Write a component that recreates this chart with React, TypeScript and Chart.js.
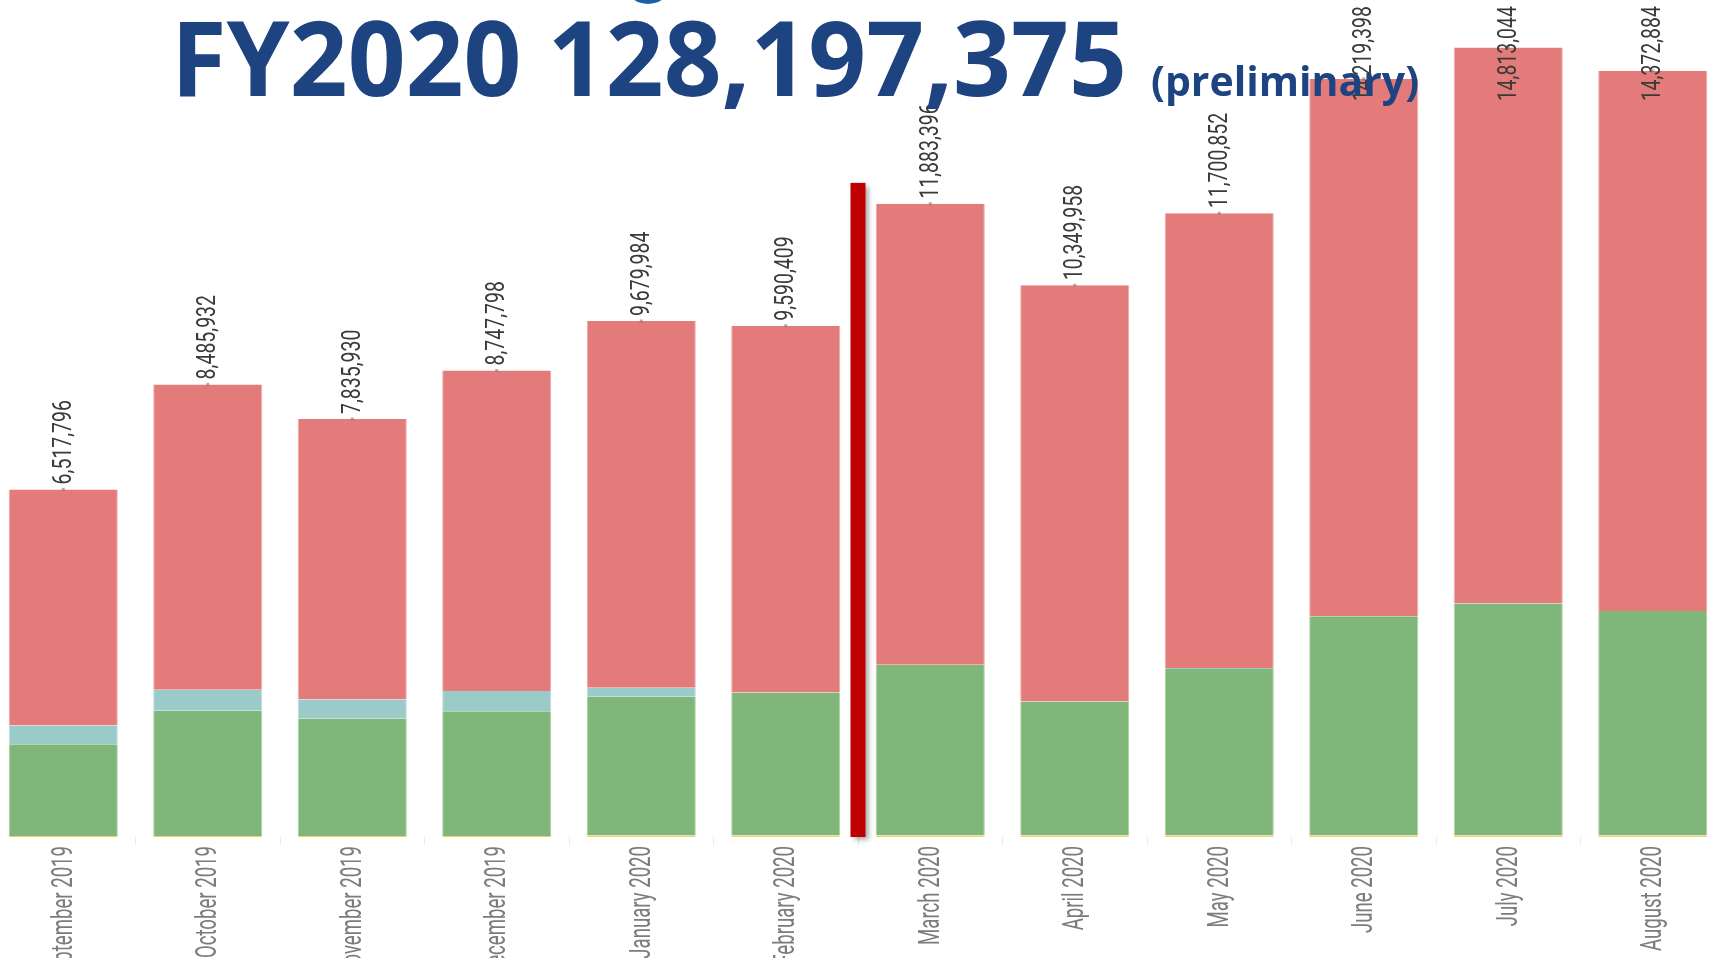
import React, { useEffect, useRef } from "react";
import { Chart, registerables } from "chart.js";

Chart.register(...registerables);

const months = [
  "September 2019", "October 2019", "November 2019", "December 2019",
  "January 2020", "February 2020", "March 2020", "April 2020",
  "May 2020", "June 2020", "July 2020", "August 2020",
];
const totals = [6517796, 8485932, 7835930, 8747798, 9679984, 9590409, 11883396, 10349958, 11700852, 14219398, 14813044, 14372884];
// segment values in millions
const yellowSeg = [0.02, 0.02, 0.02, 0.02, 0.03, 0.03, 0.03, 0.03, 0.03, 0.03, 0.03, 0.03];
const greenSeg = [1.72, 2.35, 2.2, 2.34, 2.6, 2.68, 3.2, 2.51, 3.12, 4.11, 4.35, 4.21];
const tealSeg = [0.35, 0.39, 0.36, 0.38, 0.17, 0, 0, 0, 0.02, 0, 0, 0];
const redSeg = [4.43, 5.73, 5.26, 6.01, 6.88, 6.88, 8.65, 7.81, 8.53, 10.08, 10.43, 10.13];
const markerIndex = 5.5;
const markerTop = 12.27;
const yMax = 15.7;

const labelFont = '"Roboto", "DejaVu Sans", sans-serif';

const overlayPlugin = {
  id: "overlay",
  afterDatasetsDraw(chart: any) {
    const ctx = chart.ctx;
    const xs = chart.scales.x;
    const ys = chart.scales.y;
    // red vertical marker
    const xm = xs.getPixelForValue(markerIndex);
    const yt = ys.getPixelForValue(markerTop);
    const yb = ys.getPixelForValue(0);
    ctx.save();
    ctx.shadowColor = "rgba(0,0,0,0.35)";
    ctx.shadowBlur = 5;
    ctx.shadowOffsetX = 3;
    ctx.shadowOffsetY = 3;
    ctx.fillStyle = "#C00000";
    ctx.fillRect(xm - 7.5, yt, 15, yb - yt);
    ctx.restore();

    // total labels above bars
    const meta = chart.getDatasetMeta(chart.data.datasets.length - 1);
    const sx = 0.75;
    ctx.save();
    ctx.font = "26px " + labelFont;
    ctx.textAlign = "left";
    ctx.textBaseline = "middle";
    meta.data.forEach((bar: any, i: number) => {
      const txt = totals[i].toLocaleString("en-US");
      const len = ctx.measureText(txt).width * sx;
      const start = Math.max(bar.y - 5, 6 + len);
      ctx.fillStyle = "rgba(120,120,120,0.6)";
      ctx.fillRect(bar.x - 1.5, bar.y - 1.5, 3, 3);
      ctx.save();
      ctx.translate(bar.x + 1, start);
      ctx.rotate(-Math.PI / 2);
      ctx.scale(sx, 1);
      ctx.fillStyle = "#3a3a3a";
      ctx.fillText(txt, 0, 0);
      ctx.restore();
    });
    ctx.restore();

    // x-axis labels (condensed)
    const lx = 0.62;
    ctx.save();
    ctx.font = "30px " + labelFont;
    ctx.textAlign = "right";
    ctx.textBaseline = "middle";
    ctx.fillStyle = "#7c7c7c";
    months.forEach((m, i) => {
      const x = xs.getPixelForTick(i);
      ctx.save();
      ctx.translate(x + 1, yb + 9);
      ctx.rotate(-Math.PI / 2);
      ctx.scale(lx, 1);
      ctx.fillText(m, 0, 0);
      ctx.restore();
    });
    ctx.restore();
  },
};

export default function App() {
  const ref = useRef<HTMLCanvasElement | null>(null);
  useEffect(() => {
    if (!ref.current) return;
    const mk = (edge: string) => ({
      barPercentage: 0.755,
      categoryPercentage: 1,
      borderWidth: { left: 1, right: 1, top: 0, bottom: 0 },
      borderColor: edge,
      borderSkipped: false,
    });
    const chart = new Chart(ref.current, {
      type: "bar",
      data: {
        labels: months,
        datasets: [
          { label: "yellow", data: yellowSeg, backgroundColor: "#F2D163", ...mk("#F2D163") },
          { label: "green", data: greenSeg, backgroundColor: "#80B67A", ...mk("#A9D0A3") },
          { label: "teal", data: tealSeg, backgroundColor: "#9BCBC8", ...mk("#B8DCDA") },
          { label: "red", data: redSeg, backgroundColor: "#E47B7B", ...mk("#F0AAAA") },
        ],
      },
      options: {
        responsive: false,
        animation: false,
        maintainAspectRatio: false,
        layout: { padding: 0 },
        plugins: { legend: { display: false }, tooltip: { enabled: false }, title: { display: false } },
        scales: {
          x: {
            stacked: true,
            border: { display: false },
            grid: { display: true, drawOnChartArea: false, drawTicks: true, tickLength: 8, color: "#e8e8e8", offset: true },
            ticks: { display: false },
            afterFit: (scale: any) => { scale.height = 130; },
          },
          y: { stacked: true, display: false, min: 0, max: yMax },
        },
      },
      plugins: [overlayPlugin],
    });
    return () => chart.destroy();
  }, []);

  return (
    <div style={{ position: "fixed", left: 0, top: 0, width: 1711, height: 958, overflow: "hidden", background: "#fff" }}>
      <canvas ref={ref} width={1734} height={967} style={{ position: "absolute", left: -9, top: 0, width: 1734, height: 967 }} />
      <div style={{ position: "absolute", left: 628, top: -26, width: 40, height: 30, borderRadius: "50%", background: "#1f5fa6" }} />
      <div style={{ position: "absolute", left: 171, top: 4, lineHeight: 1, fontFamily: '"Open Sans", sans-serif', fontWeight: 700, fontSize: 104, color: "#1d4381", whiteSpace: "nowrap", transform: "scaleX(0.974)", transformOrigin: "left top" }}>
        FY2020 128,197,375
      </div>
      <div style={{ position: "absolute", left: 1151, top: 60, lineHeight: 1, fontFamily: '"Open Sans", sans-serif', fontWeight: 700, fontSize: 41, color: "#1d4381", whiteSpace: "nowrap" }}>
        (preliminary)
      </div>
    </div>
  );
}
